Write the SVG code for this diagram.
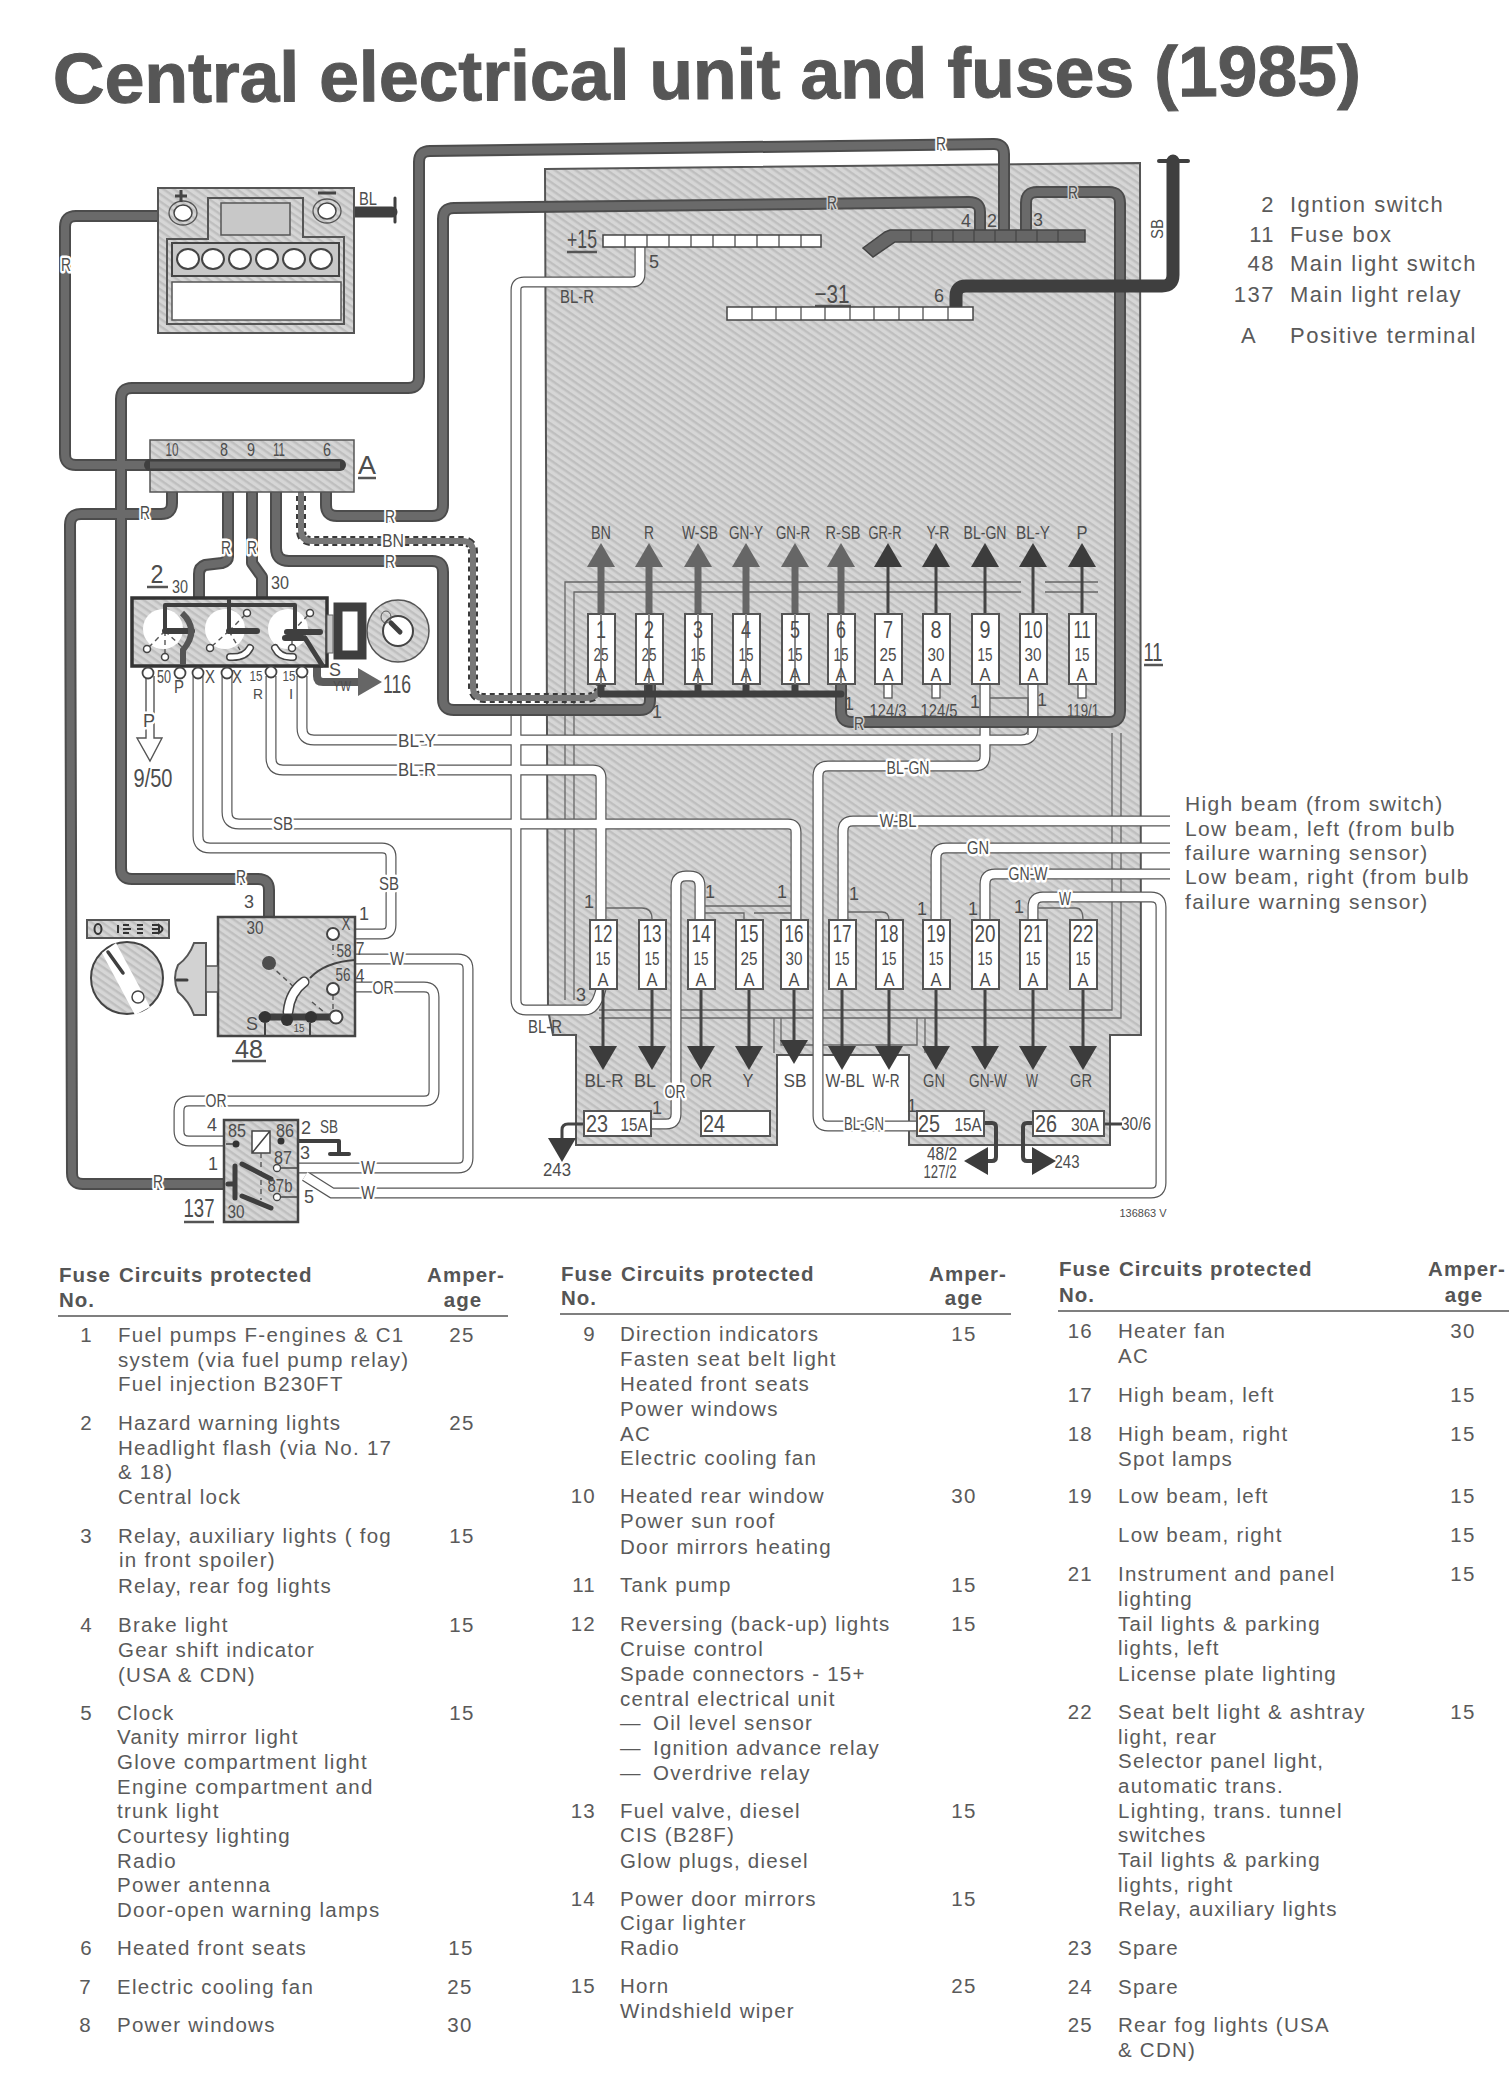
<svg xmlns="http://www.w3.org/2000/svg" width="1509" height="2081" viewBox="0 0 1509 2081">
<style>
text{font-family:"Liberation Sans",Arial,sans-serif;fill:#4d4d4d;lengthAdjust:spacingAndGlyphs}
.t{font-size:20.5px;letter-spacing:1.25px;fill:#5a5a5a}
.s{font-size:21px;letter-spacing:1.35px;fill:#5a5a5a}
.l{font-size:22px;letter-spacing:1.5px;fill:#5a5a5a}
.h{font-size:20.5px;font-weight:bold;letter-spacing:1px;fill:#555}
.c{text-anchor:middle}.e{text-anchor:end}
.title{font-size:71px;font-weight:bold;fill:#565656;stroke:#565656;stroke-width:1}
.n{font-size:18px;text-anchor:middle}
.lb{font-size:18px;text-anchor:middle;paint-order:stroke;stroke:#fff;stroke-width:5px;stroke-linejoin:round}
.lg{font-size:18px;text-anchor:middle;paint-order:stroke;stroke:#cfcfcf;stroke-width:4px;stroke-linejoin:round}
.big{font-size:26px;text-anchor:middle}
.sm{font-size:18px;text-anchor:middle}
.fn{font-size:24px;text-anchor:middle}
.fa{font-size:18px;text-anchor:middle}
.fuse{fill:#fff;stroke:#555;stroke-width:2}
.panel{fill:url(#hatch);stroke:#555;stroke-width:2}
.thin{fill:none;stroke:#666;stroke-width:1.3}
.ul{fill:none;stroke:#555;stroke-width:2.5}
.wo{fill:none;stroke:#555;stroke-width:11;stroke-linejoin:round}
.wi{fill:none;stroke:#fff;stroke-width:8.6}
.to{fill:none;stroke:#4c4c4c;stroke-width:12;stroke-linejoin:round}
.ti{fill:none;stroke:#6a6a6a;stroke-width:8}
.dark{fill:none;stroke:#3f3f3f;stroke-linejoin:round;stroke-linecap:round}
.lead{fill:none;stroke:#444;stroke-width:3}
.leadt{fill:none;stroke:#666;stroke-width:7}
.ink{fill:#333}
.wh{fill:#fff;stroke:#444;stroke-width:2}
.dash{fill:none;stroke:#555;stroke-width:1.4;stroke-dasharray:5 4}
</style>
<defs>
<pattern id="hatch" width="6" height="6" patternUnits="userSpaceOnUse" patternTransform="rotate(35)">
<rect width="6" height="6" fill="#d6d6d6"/><rect width="6" height="2.4" fill="#bfbfbf"/>
</pattern>
<marker id="hd" markerUnits="userSpaceOnUse" markerWidth="24" markerHeight="28" refX="0" refY="14" orient="auto" viewBox="0 0 24 28"><path d="M0 0L24 14L0 28Z" fill="#3c3c3c"/></marker>
<marker id="hg" markerUnits="userSpaceOnUse" markerWidth="24" markerHeight="28" refX="0" refY="14" orient="auto" viewBox="0 0 24 28"><path d="M0 0L24 14L0 28Z" fill="#666"/></marker>
</defs>
<rect width="1509" height="2081" fill="#fff"/>
<text class="title" x="53" y="103" textLength="1308" lengthAdjust="spacingAndGlyphs" transform="rotate(-.35 53 103)">Central electrical unit and fuses (1985)</text>

<g id="fuse-box-panel">
<path class="panel" d="M545 169L1140 163L1141 1035H1110V1145H909V1055H777V1145H576V1035H553L548 1010Z"/>
<path class="thin" d="M565 1000V582H1021M574 1000V592H1021M1045 582H1098M1045 592H1098M599 1010H1112V733M599 1018H1121V733M781 1018V1045H917V1018M774 1018V1053M925 1018V1053"/>
<text class="big" x="582" y="248" textLength="30" lengthAdjust="spacingAndGlyphs">+15</text><path class="ul" d="M567 252H597"/>
<text class="big" x="832" y="303" textLength="35" lengthAdjust="spacingAndGlyphs">−31</text><path class="ul" d="M815 306H851"/>
<text class="big" x="1153" y="661" textLength="19" lengthAdjust="spacingAndGlyphs">11</text><path class="ul" d="M1144 665H1163"/>
<text class="n" x="577" y="303" textLength="34" lengthAdjust="spacingAndGlyphs">BL-R</text>
<text class="sm" transform="translate(1163 229) rotate(-90)" textLength="20" lengthAdjust="spacingAndGlyphs" style="font-size:16px">SB</text>
</g>

<g id="connectors">
<g class="wo"><g id="white-wires">
<path d="M640 247V274Q640 282 632 282H524Q516 282 516 290V1000Q516 1010 526 1010H585Q596 1010 601 989"/>
<path d="M302 676V728Q302 740 314 740H1021Q1033 740 1033 728V683"/>
<path d="M271 676V758Q271 770 283 770H593Q601 770 601 778V920"/>
<path d="M227 676V812Q227 824 239 824H788Q796 824 796 832V919"/>
<path d="M198 676V836Q198 848 210 848H382Q391 848 391 857V925Q391 934 382 934H356"/>
<path d="M985 684V756Q985 766 975 766H828Q818 766 818 776V1116Q818 1126 828 1126H917"/>
<path d="M1170 821H853Q843 821 843 831V920"/>
<path d="M1170 848H946Q936 848 936 858V920"/>
<path d="M1170 874H995Q985 874 985 884V920"/>
<path d="M1033 920V907Q1033 897 1043 897H1151Q1161 897 1161 907V1183Q1161 1193 1151 1193H332L305 1176"/>
<path d="M298 1168H458Q468 1168 468 1158V969Q468 959 458 959H356"/>
<path d="M356 987H424Q434 987 434 997V1091Q434 1101 424 1101H189Q179 1101 179 1111V1131Q179 1141 189 1141H225"/>
<path d="M651 1124H666Q676 1124 676 1114V886Q676 876 686 876H690Q700 876 700 886V919"/>
</g></g>
<use href="#white-wires" class="wi"/>
<path class="thin" d="M606 908H642Q652 908 652 919M705 906H791M705 913H744V919M754 913H791M848 912H882Q889 912 889 920M1038 908H1076Q1083 908 1083 920M990 698H1028V735"/>
<path fill="#fff" stroke="#555" stroke-width="1.4" d="M146 676V738H137L150 761L162 738H154V676"/>
<g fill="#fff" stroke="#555" stroke-width="1.3"><rect x="884" y="684" width="8" height="14"/><rect x="932" y="684" width="8" height="14"/><rect x="1078" y="684" width="8" height="14"/></g>

<path fill="none" stroke="#3a3a3a" stroke-width="10" stroke-dasharray="5 4" d="M301 469V530Q301 541 312 541H462Q473 541 473 552V687Q473 698 484 698H585Q600 698 601 684"/>
<path fill="none" stroke="#777" stroke-width="6" d="M301 469V530Q301 541 312 541H462Q473 541 473 552V687Q473 698 484 698H585Q600 698 601 684"/>
<g class="to"><g id="thick-wires">
<path d="M183 216H76Q65 216 65 227V454Q65 465 76 465H341"/>
<path d="M269 962V890Q269 879 258 879H132Q121 879 121 868V399Q121 388 132 388H408Q419 388 419 377V162Q419 151 430 151L994 144Q1004 144 1004 154V230"/>
<path d="M326 469V505Q326 516 337 516H432Q443 516 443 505V219Q443 208 454 208L969 202Q980 202 980 212V230"/>
<path d="M172 469V503Q172 514 161 514H81Q70 514 70 525L72 1173Q72 1184 83 1184H228"/>
<path d="M228 469V557Q228 561 222 563L205 565Q199 567 199 574V600"/>
<path d="M252 469V563L262 577V600"/>
<path d="M276 469V548Q276 561 289 561H432Q443 561 443 572V699Q443 710 454 710H640Q650 710 650 700V684"/>
<path d="M841 684V711Q841 722 852 722H1109Q1120 722 1120 711V203Q1120 192 1109 192H1037Q1026 192 1026 203V230"/>
</g></g>
<use href="#thick-wires" class="ti"/>
<path class="dark" stroke-width="7" d="M601 694H841M601 684V694M649 684V694M698 684V694M746 684V694M795 684V694"/>
<path class="dark" stroke-width="13" d="M956 306V296Q956 286 966 286H1162Q1173 286 1173 275V161"/>
<path class="dark" stroke-width="4" d="M1159 161H1188"/>
<path class="dark" stroke-width="11" d="M335 212H392"/>
<path class="dark" stroke-width="3" d="M395 198V222"/>
<path class="leadt" marker-end="url(#hg)" d="M601 614V567"/><path class="leadt" marker-end="url(#hg)" d="M649 614V567"/><path class="leadt" marker-end="url(#hg)" d="M698 614V567"/><path class="leadt" marker-end="url(#hg)" d="M746 614V567"/><path class="leadt" marker-end="url(#hg)" d="M795 614V567"/><path class="leadt" marker-end="url(#hg)" d="M841 614V567"/>
<path class="lead" marker-end="url(#hd)" d="M888 614V567"/><path class="lead" marker-end="url(#hd)" d="M936 614V567"/><path class="lead" marker-end="url(#hd)" d="M985 614V567"/><path class="lead" marker-end="url(#hd)" d="M1033 614V567"/><path class="lead" marker-end="url(#hd)" d="M1082 614V567"/>
<path class="lead" marker-end="url(#hd)" d="M603 989V1046"/><path class="lead" marker-end="url(#hd)" d="M652 989V1046"/><path class="lead" marker-end="url(#hd)" d="M701 989V1046"/><path class="lead" marker-end="url(#hd)" d="M749 989V1046"/><path class="lead" marker-end="url(#hd)" d="M794 989V1040"/><path class="lead" marker-end="url(#hd)" d="M842 989V1046"/><path class="lead" marker-end="url(#hd)" d="M889 989V1046"/><path class="lead" marker-end="url(#hd)" d="M936 989V1046"/><path class="lead" marker-end="url(#hd)" d="M985 989V1046"/><path class="lead" marker-end="url(#hd)" d="M1033 989V1046"/><path class="lead" marker-end="url(#hd)" d="M1083 989V1046"/>
<path class="lead" marker-end="url(#hd)" d="M584 1124H568Q562 1124 562 1130V1138"/>
<path class="lead" marker-end="url(#hd)" style="stroke-width:4" d="M984 1123H992Q996 1123 996 1127V1157Q996 1161 992 1161H988"/>
<path class="lead" marker-end="url(#hd)" style="stroke-width:4" d="M1033 1123H1027Q1023 1123 1023 1127V1157Q1023 1161 1027 1161H1032"/>
<path class="lead" d="M1104 1124H1122"/>
<path fill="none" stroke="#5c5c5c" stroke-width="8" marker-end="url(#hg)" d="M317 666V676Q317 682 323 682H358"/>
<path class="dark" stroke-width="4" d="M281 1141H339V1154M330 1154H349"/>
</g>

<g id="node-battery">
<rect class="panel" x="158" y="188" width="196" height="145"/>
<path fill="none" stroke="#555" stroke-width="2" d="M167 239H208V198H303V237H344V324H167Z"/>
<rect x="221" y="203" width="69" height="32" fill="#c8c8c8" stroke="#555" stroke-width="1.5"/>
<rect x="172" y="243" width="167" height="33" fill="#c8c8c8" stroke="#444" stroke-width="2"/>
<g fill="#fff" stroke="#444" stroke-width="2"><ellipse cx="188" cy="259" rx="11" ry="10"/><ellipse cx="213" cy="259" rx="11" ry="10"/><ellipse cx="240" cy="259" rx="11" ry="10"/><ellipse cx="267" cy="259" rx="11" ry="10"/><ellipse cx="294" cy="259" rx="11" ry="10"/><ellipse cx="321" cy="259" rx="11" ry="10"/></g>
<rect x="172" y="282" width="169" height="38" fill="#fff" stroke="#555" stroke-width="1.5"/>
<ellipse cx="183" cy="213" rx="14" ry="12" fill="none" stroke="#555" stroke-width="1.3"/>
<ellipse cx="327" cy="211" rx="14" ry="12" fill="none" stroke="#555" stroke-width="1.3"/>
<ellipse cx="183" cy="213" rx="9" ry="8" fill="#fff" stroke="#444" stroke-width="1.5"/>
<ellipse cx="327" cy="211" rx="9" ry="8" fill="#fff" stroke="#444" stroke-width="1.5"/>
<path stroke="#444" stroke-width="3" d="M175 196H187M181 190V202M318 193H336"/>
<text class="n" x="368" y="205" textLength="18" lengthAdjust="spacingAndGlyphs">BL</text>
</g>

<g id="node-A">
<rect x="150" y="440" width="204" height="52" fill="url(#hatch)" stroke="#555" stroke-width="1.5"/>
<path class="dark" stroke-width="12" d="M150 465H340"/>
<path fill="none" stroke="#5f5f5f" stroke-width="7" d="M150 465H340"/>
<text class="n" x="172" y="456" textLength="13" lengthAdjust="spacingAndGlyphs">10</text><text class="n" x="224" y="456" textLength="8" lengthAdjust="spacingAndGlyphs">8</text><text class="n" x="251" y="456" textLength="8" lengthAdjust="spacingAndGlyphs">9</text><text class="n" x="279" y="456" textLength="12" lengthAdjust="spacingAndGlyphs">11</text><text class="n" x="327" y="456" textLength="8" lengthAdjust="spacingAndGlyphs">6</text>
<text class="big" x="367" y="474" textLength="18" lengthAdjust="spacingAndGlyphs">A</text><path class="ul" d="M358 478H376"/>
</g>

<g id="node-2">
<rect x="132" y="598" width="195" height="68" fill="url(#hatch)" stroke="#333" stroke-width="3.5"/>
<circle cx="163" cy="629" r="20" fill="#fff"/><circle cx="225" cy="629" r="20" fill="#fff"/><circle cx="288" cy="629" r="20" fill="#fff"/>
<path class="dash" d="M165 631L147 649M165 631V657M165 631L182 647M229 631L210 648M229 631L247 613M229 631L240 650M292 632L310 613M292 632L292 648"/>
<path class="dark" stroke-width="4" d="M165 605H295M165 605V630M229 600V632M295 605V632"/>
<path class="dark" stroke-width="6" d="M165 631H192M229 631H257M287 632H320M285 638H303"/>
<path class="dark" stroke-width="5" d="M305 638L322 665"/>
<path fill="none" stroke="#555" stroke-width="6" d="M182 613Q200 630 183 650V665"/>
<path fill="none" stroke="#444" stroke-width="8" stroke-linecap="round" d="M230 657Q245 658 250 648M275 648Q280 658 293 657"/>
<path fill="none" stroke="#fff" stroke-width="5" stroke-linecap="round" d="M230 657Q245 658 250 648M275 648Q280 658 293 657"/>
<g class="wh" style="stroke-width:1.5"><circle cx="147" cy="649" r="3.5"/><circle cx="165" cy="657" r="3.5"/><circle cx="210" cy="648" r="3.5"/><circle cx="247" cy="613" r="3.5"/><circle cx="310" cy="613" r="3.5"/><circle cx="292" cy="648" r="3.5"/></g>
<g class="wh" style="stroke-width:1.8"><circle cx="148" cy="673" r="5.5"/><circle cx="180" cy="673" r="5.5"/><circle cx="198" cy="673" r="5.5"/><circle cx="227" cy="673" r="5.5"/><circle cx="271" cy="672" r="5.5"/><circle cx="302" cy="672" r="5.5"/></g>
<rect x="327" y="615" width="6" height="38" fill="#c9c9c9" stroke="#666"/>
<rect x="338" y="607" width="24" height="48" fill="#fff" stroke="#3f3f3f" stroke-width="9"/>
<circle cx="398" cy="631" r="31" fill="url(#hatch)" stroke="#555" stroke-width="1.5"/>
<circle cx="398" cy="631" r="15" fill="#fff" stroke="#444" stroke-width="2"/>
<path class="dark" stroke-width="5" d="M391 623L400 632"/>
<ellipse cx="386" cy="617" rx="5" ry="6" fill="none" stroke="#555"/>
<text class="big" x="157" y="583" textLength="13" lengthAdjust="spacingAndGlyphs">2</text><path class="ul" d="M147 587H168"/>
<text class="n" x="180" y="593" textLength="16" lengthAdjust="spacingAndGlyphs">30</text><text class="n" x="280" y="589" textLength="18" lengthAdjust="spacingAndGlyphs">30</text>
<text class="sm" x="164" y="683" textLength="14" lengthAdjust="spacingAndGlyphs">50</text><text class="sm" x="179" y="693" textLength="10" lengthAdjust="spacingAndGlyphs">P</text><text class="sm" x="210" y="683" textLength="10" lengthAdjust="spacingAndGlyphs">X</text><text class="sm" x="237" y="683" textLength="10" lengthAdjust="spacingAndGlyphs">X</text>
<text class="sm" x="256" y="681" textLength="13" lengthAdjust="spacingAndGlyphs" style="font-size:15px">15</text><text class="sm" x="258" y="699" textLength="10" lengthAdjust="spacingAndGlyphs" style="font-size:15px">R</text><text class="sm" x="289" y="681" textLength="13" lengthAdjust="spacingAndGlyphs" style="font-size:15px">15</text><text class="sm" x="291" y="699" style="font-size:15px">I</text>
<text class="n" x="335" y="676">S</text><text class="sm" x="342" y="691" textLength="18" lengthAdjust="spacingAndGlyphs" style="font-size:15px">YW</text>
<text class="big" x="397" y="693" textLength="28" lengthAdjust="spacingAndGlyphs">116</text>
<text class="lb" x="149" y="727">P</text>
<text class="big" x="153" y="787" textLength="39" lengthAdjust="spacingAndGlyphs">9/50</text>
</g>

<g id="node-48">
<rect x="218" y="917" width="137" height="119" fill="url(#hatch)" stroke="#444" stroke-width="2.5"/>
<rect x="87" y="920" width="82" height="18" fill="url(#hatch)" stroke="#555" stroke-width="2"/>
<g fill="none" stroke="#333" stroke-width="2"><ellipse cx="98" cy="929" rx="3.5" ry="5"/><path d="M118 925V933M123 925h6M123 929h6M123 933h6M129 929h2M137 925h6M137 929h6M137 933h6M152 925h6M152 929h6M152 933h6M159 925Q166 929 159 933Z"/></g>
<circle cx="127" cy="978" r="36" fill="url(#hatch)" stroke="#444" stroke-width="2"/>
<path fill="#fff" d="M102 953L116 943L150 1007L135 1015Z"/>
<path class="dark" stroke-width="3.5" d="M108 952L123 973"/>
<circle cx="138" cy="997" r="6" fill="none" stroke="#444" stroke-width="1.5"/>
<path fill="#d2d2d2" stroke="#555" stroke-width="2" d="M206 943H194Q189 957 178 965Q172 978 178 992Q189 1001 194 1015H206Z"/>
<rect x="206" y="966" width="12" height="26" fill="#d2d2d2" stroke="#555" stroke-width="1.5"/>
<path class="dark" stroke-width="3" d="M177 980H187"/>
<path class="dash" d="M270 965L297 990M312 1002L324 1012M333 995V1010M333 945V955"/>
<path fill="none" stroke="#444" stroke-width="2" d="M310 978Q325 962 355 960"/>
<path fill="none" stroke="#444" stroke-width="11" stroke-linecap="round" d="M288 1012Q290 992 304 982"/>
<path fill="none" stroke="#fff" stroke-width="8" stroke-linecap="round" d="M288 1012Q290 992 304 982"/>
<path class="dark" stroke-width="7" d="M262 1017H333"/>
<circle cx="265" cy="1017" r="6" class="ink"/><circle cx="287" cy="1020" r="6" class="ink"/><circle cx="311" cy="1017" r="6" class="ink"/>
<path stroke="#444" stroke-width="2" d="M265 1023V1036M310 1023V1036"/>
<circle cx="269" cy="963" r="7" fill="#4d4d4d"/>
<circle cx="333" cy="934" r="6" class="wh"/><circle cx="333" cy="989" r="6" class="wh"/><circle cx="336" cy="1017" r="6.5" class="wh"/>
<text class="n" x="249" y="908">3</text><text class="n" x="255" y="934" textLength="17" lengthAdjust="spacingAndGlyphs">30</text><text class="n" x="364" y="920">1</text>
<text class="n" x="346" y="930" textLength="9" lengthAdjust="spacingAndGlyphs">X</text><text class="n" x="344" y="957" textLength="15" lengthAdjust="spacingAndGlyphs">58</text><text class="n" x="360" y="955" textLength="9" lengthAdjust="spacingAndGlyphs">7</text><text class="n" x="343" y="981" textLength="15" lengthAdjust="spacingAndGlyphs">56</text><text class="n" x="360" y="982" textLength="9" lengthAdjust="spacingAndGlyphs">4</text>
<text class="n" x="252" y="1030">S</text><text class="sm" x="299" y="1032" style="font-size:10px">15</text>
<text class="big" x="249" y="1058" textLength="28" lengthAdjust="spacingAndGlyphs">48</text><path class="ul" d="M232 1061H266"/>
</g>

<g id="node-137">
<rect x="224" y="1120" width="74" height="102" fill="url(#hatch)" stroke="#444" stroke-width="2.5"/>
<path fill="#fff" stroke="#444" stroke-width="1.5" d="M252 1131H270V1153H252ZM252 1153L270 1131"/>
<path class="dash" d="M261 1153V1200"/>
<circle cx="236" cy="1144" r="3.5" class="ink"/><circle cx="281" cy="1141" r="3.5" class="ink"/>
<path class="dark" stroke-width="5" d="M235 1166V1198M242 1164L271 1179M242 1196L271 1208M228 1184H235"/>
<path stroke="#444" stroke-width="1.5" d="M277 1168H298M277 1197H298M226 1144H233"/>
<circle cx="277" cy="1168" r="3.5" class="wh" style="stroke-width:1.3"/><circle cx="277" cy="1197" r="3.5" class="wh" style="stroke-width:1.3"/>
<text class="n" x="237" y="1137" textLength="18" lengthAdjust="spacingAndGlyphs">85</text><text class="n" x="285" y="1137" textLength="18" lengthAdjust="spacingAndGlyphs">86</text><text class="n" x="283" y="1164" textLength="18" lengthAdjust="spacingAndGlyphs">87</text><text class="n" x="280" y="1192" textLength="25" lengthAdjust="spacingAndGlyphs">87b</text><text class="n" x="236" y="1218" textLength="17" lengthAdjust="spacingAndGlyphs">30</text>
<text class="n" x="306" y="1134">2</text><text class="n" x="329" y="1133" textLength="18" lengthAdjust="spacingAndGlyphs">SB</text><text class="n" x="212" y="1131">4</text><text class="n" x="213" y="1170">1</text><text class="n" x="305" y="1159">3</text><text class="n" x="309" y="1203">5</text>
<text class="big" x="199" y="1217" textLength="31" lengthAdjust="spacingAndGlyphs">137</text><path class="ul" d="M184 1222H214"/>
</g>

<g id="bus-15"><rect x="603" y="235" width="218" height="12" fill="#fff" stroke="#444" stroke-width="1.5"/><path stroke="#444" stroke-width="1.2" d="M625 235v12M647 235v12M669 235v12M691 235v12M713 235v12M735 235v12M757 235v12M779 235v12M801 235v12"/><text class="sm" x="654" y="268">5</text></g>
<g id="bus-31"><rect x="727" y="307" width="246" height="13" fill="#fff" stroke="#444" stroke-width="1.5"/><path stroke="#444" stroke-width="1.2" d="M752 307v13M776 307v13M801 307v13M825 307v13M850 307v13M874 307v13M899 307v13M923 307v13M948 307v13"/><text class="sm" x="939" y="302">6</text></g>
<g id="bus-30"><path fill="#666" stroke="#444" stroke-width="1.5" d="M890 230H1085V242H895L873 257L863 248L885 232Z"/><path stroke="#444" stroke-width="1.2" d="M911 230v12M932 230v12M953 230v12M974 230v12M995 230v12M1016 230v12M1037 230v12M1058 230v12"/><text class="sm" x="966" y="227">4</text><text class="sm" x="992" y="227">2</text><text class="sm" x="1038" y="226">3</text></g>

<g id="fuses-upper">
<g id="fuse-1"><rect class="fuse" x="588" y="614" width="27" height="70"/><path stroke="#888" stroke-width="2" d="M601 614V684"/><text class="fn" x="601" y="638" textLength="10" lengthAdjust="spacingAndGlyphs">1</text><text class="fa" x="601" y="661" textLength="15" lengthAdjust="spacingAndGlyphs">25</text><text class="fa" x="601" y="681" textLength="11" lengthAdjust="spacingAndGlyphs">A</text></g>
<g id="fuse-2"><rect class="fuse" x="636" y="614" width="27" height="70"/><path stroke="#888" stroke-width="2" d="M649 614V684"/><text class="fn" x="649" y="638" textLength="10" lengthAdjust="spacingAndGlyphs">2</text><text class="fa" x="649" y="661" textLength="15" lengthAdjust="spacingAndGlyphs">25</text><text class="fa" x="649" y="681" textLength="11" lengthAdjust="spacingAndGlyphs">A</text></g>
<g id="fuse-3"><rect class="fuse" x="685" y="614" width="27" height="70"/><path stroke="#888" stroke-width="2" d="M698 614V684"/><text class="fn" x="698" y="638" textLength="10" lengthAdjust="spacingAndGlyphs">3</text><text class="fa" x="698" y="661" textLength="15" lengthAdjust="spacingAndGlyphs">15</text><text class="fa" x="698" y="681" textLength="11" lengthAdjust="spacingAndGlyphs">A</text></g>
<g id="fuse-4"><rect class="fuse" x="733" y="614" width="27" height="70"/><path stroke="#888" stroke-width="2" d="M746 614V684"/><text class="fn" x="746" y="638" textLength="10" lengthAdjust="spacingAndGlyphs">4</text><text class="fa" x="746" y="661" textLength="15" lengthAdjust="spacingAndGlyphs">15</text><text class="fa" x="746" y="681" textLength="11" lengthAdjust="spacingAndGlyphs">A</text></g>
<g id="fuse-5"><rect class="fuse" x="782" y="614" width="27" height="70"/><path stroke="#888" stroke-width="2" d="M795 614V684"/><text class="fn" x="795" y="638" textLength="10" lengthAdjust="spacingAndGlyphs">5</text><text class="fa" x="795" y="661" textLength="15" lengthAdjust="spacingAndGlyphs">15</text><text class="fa" x="795" y="681" textLength="11" lengthAdjust="spacingAndGlyphs">A</text></g>
<g id="fuse-6"><rect class="fuse" x="828" y="614" width="27" height="70"/><path stroke="#888" stroke-width="2" d="M841 614V684"/><text class="fn" x="841" y="638" textLength="10" lengthAdjust="spacingAndGlyphs">6</text><text class="fa" x="841" y="661" textLength="15" lengthAdjust="spacingAndGlyphs">15</text><text class="fa" x="841" y="681" textLength="11" lengthAdjust="spacingAndGlyphs">A</text></g>
<g id="fuse-7"><rect class="fuse" x="875" y="614" width="27" height="70"/><text class="fn" x="888" y="638" textLength="10" lengthAdjust="spacingAndGlyphs">7</text><text class="fa" x="888" y="661" textLength="17" lengthAdjust="spacingAndGlyphs">25</text><text class="fa" x="888" y="681" textLength="11" lengthAdjust="spacingAndGlyphs">A</text></g>
<g id="fuse-8"><rect class="fuse" x="923" y="614" width="27" height="70"/><text class="fn" x="936" y="638" textLength="11" lengthAdjust="spacingAndGlyphs">8</text><text class="fa" x="936" y="661" textLength="17" lengthAdjust="spacingAndGlyphs">30</text><text class="fa" x="936" y="681" textLength="11" lengthAdjust="spacingAndGlyphs">A</text></g>
<g id="fuse-9"><rect class="fuse" x="972" y="614" width="27" height="70"/><text class="fn" x="985" y="638" textLength="11" lengthAdjust="spacingAndGlyphs">9</text><text class="fa" x="985" y="661" textLength="15" lengthAdjust="spacingAndGlyphs">15</text><text class="fa" x="985" y="681" textLength="11" lengthAdjust="spacingAndGlyphs">A</text></g>
<g id="fuse-10"><rect class="fuse" x="1020" y="614" width="27" height="70"/><text class="fn" x="1033" y="638" textLength="19" lengthAdjust="spacingAndGlyphs">10</text><text class="fa" x="1033" y="661" textLength="17" lengthAdjust="spacingAndGlyphs">30</text><text class="fa" x="1033" y="681" textLength="11" lengthAdjust="spacingAndGlyphs">A</text></g>
<g id="fuse-11"><rect class="fuse" x="1069" y="614" width="27" height="70"/><text class="fn" x="1082" y="638" textLength="17" lengthAdjust="spacingAndGlyphs">11</text><text class="fa" x="1082" y="661" textLength="15" lengthAdjust="spacingAndGlyphs">15</text><text class="fa" x="1082" y="681" textLength="11" lengthAdjust="spacingAndGlyphs">A</text></g>
</g>

<g id="fuses-lower">
<g id="fuse-12"><rect class="fuse" x="590" y="920" width="27" height="69"/><text class="fn" x="603" y="942" textLength="19" lengthAdjust="spacingAndGlyphs">12</text><text class="fa" x="603" y="965" textLength="15" lengthAdjust="spacingAndGlyphs">15</text><text class="fa" x="603" y="986" textLength="11" lengthAdjust="spacingAndGlyphs">A</text></g>
<g id="fuse-13"><rect class="fuse" x="639" y="920" width="27" height="69"/><text class="fn" x="652" y="942" textLength="19" lengthAdjust="spacingAndGlyphs">13</text><text class="fa" x="652" y="965" textLength="15" lengthAdjust="spacingAndGlyphs">15</text><text class="fa" x="652" y="986" textLength="11" lengthAdjust="spacingAndGlyphs">A</text></g>
<g id="fuse-14"><rect class="fuse" x="688" y="920" width="27" height="69"/><text class="fn" x="701" y="942" textLength="19" lengthAdjust="spacingAndGlyphs">14</text><text class="fa" x="701" y="965" textLength="15" lengthAdjust="spacingAndGlyphs">15</text><text class="fa" x="701" y="986" textLength="11" lengthAdjust="spacingAndGlyphs">A</text></g>
<g id="fuse-15"><rect class="fuse" x="736" y="920" width="27" height="69"/><text class="fn" x="749" y="942" textLength="19" lengthAdjust="spacingAndGlyphs">15</text><text class="fa" x="749" y="965" textLength="17" lengthAdjust="spacingAndGlyphs">25</text><text class="fa" x="749" y="986" textLength="11" lengthAdjust="spacingAndGlyphs">A</text></g>
<g id="fuse-16"><rect class="fuse" x="781" y="920" width="27" height="69"/><text class="fn" x="794" y="942" textLength="19" lengthAdjust="spacingAndGlyphs">16</text><text class="fa" x="794" y="965" textLength="17" lengthAdjust="spacingAndGlyphs">30</text><text class="fa" x="794" y="986" textLength="11" lengthAdjust="spacingAndGlyphs">A</text></g>
<g id="fuse-17"><rect class="fuse" x="829" y="920" width="27" height="69"/><text class="fn" x="842" y="942" textLength="19" lengthAdjust="spacingAndGlyphs">17</text><text class="fa" x="842" y="965" textLength="15" lengthAdjust="spacingAndGlyphs">15</text><text class="fa" x="842" y="986" textLength="11" lengthAdjust="spacingAndGlyphs">A</text></g>
<g id="fuse-18"><rect class="fuse" x="876" y="920" width="27" height="69"/><text class="fn" x="889" y="942" textLength="19" lengthAdjust="spacingAndGlyphs">18</text><text class="fa" x="889" y="965" textLength="15" lengthAdjust="spacingAndGlyphs">15</text><text class="fa" x="889" y="986" textLength="11" lengthAdjust="spacingAndGlyphs">A</text></g>
<g id="fuse-19"><rect class="fuse" x="923" y="920" width="27" height="69"/><text class="fn" x="936" y="942" textLength="19" lengthAdjust="spacingAndGlyphs">19</text><text class="fa" x="936" y="965" textLength="15" lengthAdjust="spacingAndGlyphs">15</text><text class="fa" x="936" y="986" textLength="11" lengthAdjust="spacingAndGlyphs">A</text></g>
<g id="fuse-20"><rect class="fuse" x="972" y="920" width="27" height="69"/><text class="fn" x="985" y="942" textLength="21" lengthAdjust="spacingAndGlyphs">20</text><text class="fa" x="985" y="965" textLength="15" lengthAdjust="spacingAndGlyphs">15</text><text class="fa" x="985" y="986" textLength="11" lengthAdjust="spacingAndGlyphs">A</text></g>
<g id="fuse-21"><rect class="fuse" x="1020" y="920" width="27" height="69"/><text class="fn" x="1033" y="942" textLength="19" lengthAdjust="spacingAndGlyphs">21</text><text class="fa" x="1033" y="965" textLength="15" lengthAdjust="spacingAndGlyphs">15</text><text class="fa" x="1033" y="986" textLength="11" lengthAdjust="spacingAndGlyphs">A</text></g>
<g id="fuse-22"><rect class="fuse" x="1070" y="920" width="27" height="69"/><text class="fn" x="1083" y="942" textLength="21" lengthAdjust="spacingAndGlyphs">22</text><text class="fa" x="1083" y="965" textLength="15" lengthAdjust="spacingAndGlyphs">15</text><text class="fa" x="1083" y="986" textLength="11" lengthAdjust="spacingAndGlyphs">A</text></g>
<g id="fuse-23"><rect class="fuse" x="584" y="1111" width="67" height="25"/><text class="fn" x="597" y="1132" textLength="22" lengthAdjust="spacingAndGlyphs">23</text><text class="fa" x="634" y="1131" textLength="27" lengthAdjust="spacingAndGlyphs">15A</text></g>
<g id="fuse-24"><rect class="fuse" x="701" y="1111" width="69" height="25"/><text class="fn" x="714" y="1132" textLength="22" lengthAdjust="spacingAndGlyphs">24</text></g>
<g id="fuse-25"><rect class="fuse" x="917" y="1111" width="67" height="25"/><text class="fn" x="929" y="1132" textLength="22" lengthAdjust="spacingAndGlyphs">25</text><text class="fa" x="968" y="1131" textLength="27" lengthAdjust="spacingAndGlyphs">15A</text></g>
<g id="fuse-26"><rect class="fuse" x="1033" y="1111" width="71" height="25"/><text class="fn" x="1046" y="1132" textLength="22" lengthAdjust="spacingAndGlyphs">26</text><text class="fa" x="1085" y="1131" textLength="28" lengthAdjust="spacingAndGlyphs">30A</text></g>
</g>

<g id="labels">
<g>
<text class="lb" x="66" y="271" textLength="10" lengthAdjust="spacingAndGlyphs">R</text><text class="lb" x="941" y="150" textLength="10" lengthAdjust="spacingAndGlyphs">R</text><text class="lb" x="241" y="883" textLength="10" lengthAdjust="spacingAndGlyphs">R</text>
<text class="lb" x="390" y="523" textLength="10" lengthAdjust="spacingAndGlyphs">R</text><text class="lg" x="832" y="209" textLength="10" lengthAdjust="spacingAndGlyphs">R</text><text class="lb" x="145" y="519" textLength="10" lengthAdjust="spacingAndGlyphs">R</text><text class="lb" x="158" y="1188" textLength="10" lengthAdjust="spacingAndGlyphs">R</text>
<text class="lb" x="226" y="554" textLength="10" lengthAdjust="spacingAndGlyphs">R</text><text class="lb" x="252" y="554" textLength="10" lengthAdjust="spacingAndGlyphs">R</text><text class="lb" x="390" y="568" textLength="10" lengthAdjust="spacingAndGlyphs">R</text><text class="lb" x="393" y="547" textLength="22" lengthAdjust="spacingAndGlyphs">BN</text>
<text class="lg" x="1073" y="199" textLength="10" lengthAdjust="spacingAndGlyphs">R</text><text class="lg" x="859" y="730" textLength="10" lengthAdjust="spacingAndGlyphs">R</text>
<text class="lb" x="417" y="747" textLength="38" lengthAdjust="spacingAndGlyphs">BL-Y</text><text class="lb" x="417" y="776" textLength="38" lengthAdjust="spacingAndGlyphs">BL-R</text><text class="lb" x="283" y="830" textLength="20" lengthAdjust="spacingAndGlyphs">SB</text><text class="lb" x="389" y="890" textLength="20" lengthAdjust="spacingAndGlyphs">SB</text>
<text class="lb" x="908" y="774" textLength="43" lengthAdjust="spacingAndGlyphs">BL-GN</text><text class="lb" x="864" y="1130" textLength="40" lengthAdjust="spacingAndGlyphs">BL-GN</text><text class="lb" x="898" y="827" textLength="37" lengthAdjust="spacingAndGlyphs">W-BL</text>
<text class="lb" x="978" y="854" textLength="22" lengthAdjust="spacingAndGlyphs">GN</text><text class="lb" x="1028" y="880" textLength="39" lengthAdjust="spacingAndGlyphs">GN-W</text><text class="lb" x="1065" y="905" textLength="12" lengthAdjust="spacingAndGlyphs">W</text>
<text class="lb" x="397" y="965" textLength="14" lengthAdjust="spacingAndGlyphs">W</text><text class="lb" x="368" y="1174" textLength="14" lengthAdjust="spacingAndGlyphs">W</text><text class="lb" x="368" y="1199" textLength="14" lengthAdjust="spacingAndGlyphs">W</text>
<text class="lb" x="383" y="994" textLength="21" lengthAdjust="spacingAndGlyphs">OR</text><text class="lb" x="216" y="1107" textLength="21" lengthAdjust="spacingAndGlyphs">OR</text><text class="lb" x="675" y="1098" textLength="21" lengthAdjust="spacingAndGlyphs">OR</text>
<text class="n" x="545" y="1033" textLength="34" lengthAdjust="spacingAndGlyphs">BL-R</text>
</g>
<g>
<text class="n" x="601" y="539" textLength="20" lengthAdjust="spacingAndGlyphs">BN</text><text class="n" x="649" y="539" textLength="10" lengthAdjust="spacingAndGlyphs">R</text><text class="n" x="700" y="539" textLength="36" lengthAdjust="spacingAndGlyphs">W-SB</text><text class="n" x="746" y="539" textLength="34" lengthAdjust="spacingAndGlyphs">GN-Y</text><text class="n" x="793" y="539" textLength="34" lengthAdjust="spacingAndGlyphs">GN-R</text><text class="n" x="843" y="539" textLength="35" lengthAdjust="spacingAndGlyphs">R-SB</text><text class="n" x="885" y="539" textLength="33" lengthAdjust="spacingAndGlyphs">GR-R</text><text class="n" x="938" y="539" textLength="23" lengthAdjust="spacingAndGlyphs">Y-R</text><text class="n" x="985" y="539" textLength="43" lengthAdjust="spacingAndGlyphs">BL-GN</text><text class="n" x="1033" y="539" textLength="34" lengthAdjust="spacingAndGlyphs">BL-Y</text><text class="n" x="1082" y="539" textLength="11" lengthAdjust="spacingAndGlyphs">P</text>
</g>
<g>
<text class="n" x="604" y="1087" textLength="39" lengthAdjust="spacingAndGlyphs">BL-R</text><text class="n" x="645" y="1087" textLength="22" lengthAdjust="spacingAndGlyphs">BL</text><text class="n" x="701" y="1087" textLength="22" lengthAdjust="spacingAndGlyphs">OR</text><text class="n" x="748" y="1087" textLength="11" lengthAdjust="spacingAndGlyphs">Y</text><text class="n" x="795" y="1087" textLength="23" lengthAdjust="spacingAndGlyphs">SB</text><text class="n" x="845" y="1087" textLength="39" lengthAdjust="spacingAndGlyphs">W-BL</text><text class="n" x="886" y="1087" textLength="27" lengthAdjust="spacingAndGlyphs">W-R</text><text class="n" x="934" y="1087" textLength="22" lengthAdjust="spacingAndGlyphs">GN</text><text class="n" x="988" y="1087" textLength="38" lengthAdjust="spacingAndGlyphs">GN-W</text><text class="n" x="1032" y="1087" textLength="12" lengthAdjust="spacingAndGlyphs">W</text><text class="n" x="1081" y="1087" textLength="22" lengthAdjust="spacingAndGlyphs">GR</text>
</g>
<g>
<text class="sm" x="888" y="717" textLength="37" lengthAdjust="spacingAndGlyphs">124/3</text><text class="sm" x="939" y="717" textLength="37" lengthAdjust="spacingAndGlyphs">124/5</text><text class="sm" x="1083" y="717" textLength="32" lengthAdjust="spacingAndGlyphs">119/1</text>
<text class="sm" x="657" y="718">1</text><text class="sm" x="849" y="710">1</text><text class="sm" x="975" y="708">1</text><text class="sm" x="1042" y="706">1</text>
<text class="sm" x="589" y="908">1</text><text class="sm" x="581" y="1001">3</text><text class="sm" x="710" y="898">1</text><text class="sm" x="782" y="898">1</text><text class="sm" x="854" y="900">1</text><text class="sm" x="922" y="915">1</text><text class="sm" x="973" y="915">1</text><text class="sm" x="1019" y="913">1</text><text class="sm" x="657" y="1114">1</text><text class="sm" x="912" y="1112">1</text>
<text class="sm" x="557" y="1176" textLength="28" lengthAdjust="spacingAndGlyphs">243</text><text class="sm" x="942" y="1160" textLength="30" lengthAdjust="spacingAndGlyphs">48/2</text><text class="sm" x="940" y="1178" textLength="33" lengthAdjust="spacingAndGlyphs">127/2</text><text class="sm" x="1067" y="1168" textLength="25" lengthAdjust="spacingAndGlyphs">243</text><text class="sm" x="1136" y="1130" textLength="30" lengthAdjust="spacingAndGlyphs">30/6</text>
<text class="sm" x="1143" y="1217" textLength="47" lengthAdjust="spacingAndGlyphs" style="font-size:10.5px">136863 V</text>
</g>
</g>

<g id="side-notes">
<text class="s" x="1185" y="811">High beam (from switch)</text>
<text class="s" x="1185" y="836">Low beam, left (from bulb</text>
<text class="s" x="1185" y="860">failure warning sensor)</text>
<text class="s" x="1185" y="884">Low beam, right (from bulb</text>
<text class="s" x="1185" y="909">failure warning sensor)</text>
</g>
<g id="legend">
<text class="l e" x="1275" y="212">2</text><text class="l" x="1290" y="212">Igntion switch</text>
<text class="l e" x="1275" y="242">11</text><text class="l" x="1290" y="242">Fuse box</text>
<text class="l e" x="1275" y="271">48</text><text class="l" x="1290" y="271">Main light switch</text>
<text class="l e" x="1275" y="302">137</text><text class="l" x="1290" y="302">Main light relay</text>
<text class="l" x="1241" y="343">A</text><text class="l" x="1290" y="343">Positive terminal</text>
</g>

<g id="table-1">
<text class="h" x="59" y="1282">Fuse</text><text class="h" x="59" y="1307">No.</text><text class="h" x="119" y="1282">Circuits protected</text><text class="h c" x="466" y="1282">Amper-</text><text class="h c" x="463" y="1307">age</text>
<path stroke="#555" stroke-width="1.5" d="M58 1316H508"/>
<text class="t e" x="93" y="1342">1</text><text class="t c" x="462" y="1342">25</text>
<text class="t" x="118" y="1342">Fuel pumps F-engines &amp; C1</text><text class="t" x="118" y="1367">system (via fuel pump relay)</text><text class="t" x="118" y="1391">Fuel injection B230FT</text>
<text class="t e" x="93" y="1430">2</text><text class="t c" x="462" y="1430">25</text>
<text class="t" x="118" y="1430">Hazard warning lights</text><text class="t" x="118" y="1455">Headlight flash (via No. 17</text><text class="t" x="118" y="1479">&amp; 18)</text><text class="t" x="118" y="1504">Central lock</text>
<text class="t e" x="93" y="1543">3</text><text class="t c" x="462" y="1543">15</text>
<text class="t" x="118" y="1543">Relay, auxiliary lights ( fog</text><text class="t" x="119" y="1567">in front spoiler)</text><text class="t" x="118" y="1593">Relay, rear fog lights</text>
<text class="t e" x="93" y="1632">4</text><text class="t c" x="462" y="1632">15</text>
<text class="t" x="118" y="1632">Brake light</text><text class="t" x="118" y="1657">Gear shift indicator</text><text class="t" x="118" y="1682">(USA &amp; CDN)</text>
<text class="t e" x="93" y="1720">5</text><text class="t c" x="462" y="1720">15</text>
<text class="t" x="117" y="1720">Clock</text><text class="t" x="117" y="1744">Vanity mirror light</text><text class="t" x="117" y="1769">Glove compartment light</text><text class="t" x="117" y="1794">Engine compartment and</text><text class="t" x="117" y="1818">trunk light</text><text class="t" x="117" y="1843">Courtesy lighting</text><text class="t" x="117" y="1868">Radio</text><text class="t" x="117" y="1892">Power antenna</text><text class="t" x="117" y="1917">Door-open warning lamps</text>
<text class="t e" x="93" y="1955">6</text><text class="t c" x="461" y="1955">15</text><text class="t" x="117" y="1955">Heated front seats</text>
<text class="t e" x="92" y="1994">7</text><text class="t c" x="460" y="1994">25</text><text class="t" x="117" y="1994">Electric cooling fan</text>
<text class="t e" x="92" y="2032">8</text><text class="t c" x="460" y="2032">30</text><text class="t" x="117" y="2032">Power windows</text>
</g>

<g id="table-2">
<text class="h" x="561" y="1281">Fuse</text><text class="h" x="561" y="1305">No.</text><text class="h" x="621" y="1281">Circuits protected</text><text class="h c" x="968" y="1281">Amper-</text><text class="h c" x="964" y="1305">age</text>
<path stroke="#555" stroke-width="1.5" d="M560 1314H1011"/>
<text class="t e" x="596" y="1341">9</text><text class="t c" x="964" y="1341">15</text>
<text class="t" x="620" y="1341">Direction indicators</text><text class="t" x="620" y="1366">Fasten seat belt light</text><text class="t" x="620" y="1391">Heated front seats</text><text class="t" x="620" y="1416">Power windows</text><text class="t" x="620" y="1441">AC</text><text class="t" x="620" y="1465">Electric cooling fan</text>
<text class="t e" x="596" y="1503">10</text><text class="t c" x="964" y="1503">30</text>
<text class="t" x="620" y="1503">Heated rear window</text><text class="t" x="620" y="1528">Power sun roof</text><text class="t" x="620" y="1554">Door mirrors heating</text>
<text class="t e" x="596" y="1592">11</text><text class="t c" x="964" y="1592">15</text><text class="t" x="620" y="1592">Tank pump</text>
<text class="t e" x="596" y="1631">12</text><text class="t c" x="964" y="1631">15</text>
<text class="t" x="620" y="1631">Reversing (back-up) lights</text><text class="t" x="620" y="1656">Cruise control</text><text class="t" x="620" y="1681">Spade connectors - 15+</text><text class="t" x="620" y="1706">central electrical unit</text>
<text class="t" x="620" y="1730">— <tspan x="653">Oil level sensor</tspan></text><text class="t" x="620" y="1755">— <tspan x="653">Ignition advance relay</tspan></text><text class="t" x="620" y="1780">— <tspan x="653">Overdrive relay</tspan></text>
<text class="t e" x="596" y="1818">13</text><text class="t c" x="964" y="1818">15</text>
<text class="t" x="620" y="1818">Fuel valve, diesel</text><text class="t" x="620" y="1842">CIS (B28F)</text><text class="t" x="620" y="1868">Glow plugs, diesel</text>
<text class="t e" x="596" y="1906">14</text><text class="t c" x="964" y="1906">15</text>
<text class="t" x="620" y="1906">Power door mirrors</text><text class="t" x="620" y="1930">Cigar lighter</text><text class="t" x="620" y="1955">Radio</text>
<text class="t e" x="596" y="1993">15</text><text class="t c" x="964" y="1993">25</text>
<text class="t" x="620" y="1993">Horn</text><text class="t" x="620" y="2018">Windshield wiper</text>
</g>

<g id="table-3">
<text class="h" x="1059" y="1276">Fuse</text><text class="h" x="1059" y="1302">No.</text><text class="h" x="1119" y="1276">Circuits protected</text><text class="h c" x="1467" y="1276">Amper-</text><text class="h c" x="1464" y="1302">age</text>
<path stroke="#555" stroke-width="1.5" d="M1058 1311H1509"/>
<text class="t e" x="1093" y="1338">16</text><text class="t c" x="1463" y="1338">30</text><text class="t" x="1118" y="1338">Heater fan</text><text class="t" x="1118" y="1363">AC</text>
<text class="t e" x="1093" y="1402">17</text><text class="t c" x="1463" y="1402">15</text><text class="t" x="1118" y="1402">High beam, left</text>
<text class="t e" x="1093" y="1441">18</text><text class="t c" x="1463" y="1441">15</text><text class="t" x="1118" y="1441">High beam, right</text><text class="t" x="1118" y="1466">Spot lamps</text>
<text class="t e" x="1093" y="1503">19</text><text class="t c" x="1463" y="1503">15</text><text class="t" x="1118" y="1503">Low beam, left</text>
<text class="t c" x="1463" y="1542">15</text><text class="t" x="1118" y="1542">Low beam, right</text>
<text class="t e" x="1093" y="1581">21</text><text class="t c" x="1463" y="1581">15</text><text class="t" x="1118" y="1581">Instrument and panel</text><text class="t" x="1118" y="1606">lighting</text><text class="t" x="1118" y="1631">Tail lights &amp; parking</text><text class="t" x="1118" y="1655">lights, left</text><text class="t" x="1118" y="1681">License plate lighting</text>
<text class="t e" x="1093" y="1719">22</text><text class="t c" x="1463" y="1719">15</text><text class="t" x="1118" y="1719">Seat belt light &amp; ashtray</text><text class="t" x="1118" y="1744">light, rear</text><text class="t" x="1118" y="1768">Selector panel light,</text><text class="t" x="1118" y="1793">automatic trans.</text><text class="t" x="1118" y="1818">Lighting, trans. tunnel</text><text class="t" x="1118" y="1842">switches</text><text class="t" x="1118" y="1867">Tail lights &amp; parking</text><text class="t" x="1118" y="1892">lights, right</text><text class="t" x="1118" y="1916">Relay, auxiliary lights</text>
<text class="t e" x="1093" y="1955">23</text><text class="t" x="1118" y="1955">Spare</text>
<text class="t e" x="1093" y="1994">24</text><text class="t" x="1118" y="1994">Spare</text>
<text class="t e" x="1093" y="2032">25</text><text class="t" x="1118" y="2032">Rear fog lights (USA</text><text class="t" x="1118" y="2057">&amp; CDN)</text>
</g>
</svg>
